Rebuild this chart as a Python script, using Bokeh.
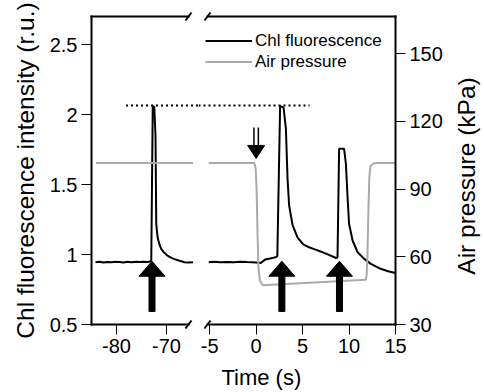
import math
from bokeh.plotting import figure
from bokeh.models import (Range1d, LinearAxis, FixedTicker, Arrow, Label, Legend,
                          LegendItem, PrintfTickFormatter)
from bokeh.layouts import row
from bokeh.embed import file_html
from bokeh.resources import INLINE

# ---------------- data ----------------
t_left = [-84.2, -83.4, -82.6, -81.8, -81.0, -80.2, -79.4, -78.6, -77.8, -77.0, -76.2,
          -75.4, -74.6, -73.8, -73.05, -72.75, -72.45, -72.2, -72.05, -71.9, -71.72,
          -71.4, -71.06, -70.4, -69.72, -69.0, -68.4, -67.4, -66.4, -65.7, -64.7]
f_left = [0.945, 0.948, 0.943, 0.947, 0.944, 0.949, 0.946, 0.943, 0.948, 0.945, 0.949,
          0.946, 0.948, 0.947, 0.952, 2.06, 2.055, 1.85, 1.22, 1.16, 1.112,
          1.07, 1.04, 1.01, 0.99, 0.976, 0.967, 0.955, 0.945, 0.942, 0.945]
tp_left = [-84.1, -64.7]
p_left = [101.5, 101.5]

t_right = [-5.1, -4.5, -3.8, -3.1, -2.4, -1.7, -1.0, -0.5, 0.0, 0.5, 1.0, 1.5, 2.1,
           2.28, 2.58, 2.95, 3.2, 3.38, 3.55, 3.92, 4.46, 5.1, 5.75, 6.4, 7.0, 7.9,
           8.6, 8.76, 8.93, 9.47, 9.66, 9.84, 10.0, 10.38, 10.92, 11.63, 12.35, 13.4,
           14.2, 15.0]
f_right = [0.945, 0.948, 0.944, 0.947, 0.945, 0.949, 0.946, 0.944, 0.942, 0.94, 0.965,
           0.972, 0.98, 0.99, 2.06, 2.05, 1.9, 1.54, 1.35, 1.21, 1.12, 1.07, 1.05,
           1.035, 1.02, 0.995, 0.975, 0.98, 1.755, 1.755, 1.648, 1.41, 1.22, 1.1,
           1.016, 0.969, 0.933, 0.898, 0.88, 0.868]
tp_right = [-5.1, -0.2, -0.05, 0.05, 0.15, 0.25, 0.4, 0.7, 11.8, 11.9, 11.98, 12.08,
            12.18, 12.3, 12.6, 13.0, 15.0]
p_right = [101.5, 101.5, 99.0, 90.0, 70.0, 55.0, 49.5, 47.4, 49.8, 52.0, 60.0, 80.0,
           95.0, 100.0, 101.3, 101.5, 101.5]

flash_left = [-72.9]
flash_right = [2.77, 8.97]
arrow_tip = 0.952
arrow_base = 0.593
valve_time = [0.0]
valve_tip = 1.686
valve_top = 1.907
peak_level = 2.064
peak_from = -78.1
peak_to = 5.75

x_left_ticks = [-80, -70]
x_right_ticks = [-5, 0, 5, 10, 15]
y_ticks = [0.5, 1, 1.5, 2, 2.5]
p_ticks = [30, 60, 90, 120, 150]

FL_AX = (0.5, 2.7)        # fluorescence axis extent
P_AX = (30, 166.4)        # air pressure axis extent
XL_AX = (-85, -65.6)      # left time segment
XR_AX = (-5.24, 15)       # right time segment

# ---------------- geometry (page px) ----------------
H = 390
SPLIT = 198
W_R = 284
Y0_PX, Y_PER = 324, 140.0
XL0_PX, XL_PER = 91, 5.0
XR1_PX, XR_PER = 395, 9.29
P_PER_F = (P_AX[1] - P_AX[0]) / (FL_AX[1] - FL_AX[0])

YV = (FL_AX[0] - (H - Y0_PX) / Y_PER, FL_AX[0] + Y0_PX / Y_PER)
PV = tuple(P_AX[0] + (v - FL_AX[0]) * P_PER_F for v in YV)
XLV = (XL_AX[0] - XL0_PX / XL_PER, XL_AX[0] + (SPLIT - XL0_PX) / XL_PER)
XRV = (XR_AX[1] - (XR1_PX - SPLIT) / XR_PER, XR_AX[1] + (SPLIT + W_R - XR1_PX) / XR_PER)
YPP = 1 / Y_PER
XPP_L = 1 / XL_PER
XPP_R = 1 / XR_PER

FONT = "Liberation Sans"
GRAY = "#aaaaaa"


def style_axis(ax, ticks):
    ax.ticker = FixedTicker(ticks=ticks, minor_ticks=[])
    ax.formatter = PrintfTickFormatter(format="%g")
    ax.axis_line_width = 2
    ax.axis_line_color = "black"
    ax.axis_line_cap = "square"
    ax.major_tick_line_width = 1
    ax.major_tick_line_color = "black"
    ax.major_tick_out = 10
    ax.major_tick_in = 0
    ax.minor_tick_line_color = None
    ax.major_label_text_font = FONT
    ax.major_label_text_font_size = "20px"
    ax.major_label_text_color = "black"
    ax.major_label_standoff = 4
    ax.axis_label_text_font = FONT
    ax.axis_label_text_font_style = "normal"
    ax.axis_label_text_font_size = "24.5px"
    ax.axis_label_text_color = "black"
    return ax


def base_fig(width, xv):
    p = figure(width=width, height=H, x_range=Range1d(*xv), y_range=Range1d(*YV),
               output_backend="svg", toolbar_location=None, x_axis_location=None,
               y_axis_location=None, min_border=0)
    p.extra_y_ranges = {"p": Range1d(*PV)}
    p.outline_line_color = None
    p.grid.visible = False
    p.background_fill_color = "white"
    p.border_fill_color = "white"
    return p


def frame_lines(p, xb, ticks):
    bottom = style_axis(LinearAxis(fixed_location=FL_AX[0], bounds=xb), ticks)
    p.add_layout(bottom, "below")
    top = style_axis(LinearAxis(fixed_location=FL_AX[1], bounds=xb), [])
    top.major_label_text_font_size = "0px"
    p.add_layout(top, "above")


def slash(p, cx, cy, xpp):
    p.add_layout(Arrow(end=None, start=None, x_start=cx - 3 * xpp, y_start=cy - 4 * YPP,
                       x_end=cx + 3 * xpp, y_end=cy + 4 * YPP, line_width=2,
                       line_color="black"))


def flash_arrows(p, times, xpp):
    xs, ys = [], []
    hw, sw, hh = 13 * xpp, 3 * xpp, 15 * YPP
    for t in times:
        xs.append([t, t + hw, t + sw, t + sw, t - sw, t - sw, t - hw])
        ys.append([arrow_tip, arrow_tip - hh, arrow_tip - hh, arrow_base, arrow_base,
                   arrow_tip - hh, arrow_tip - hh])
    p.patches(xs, ys, fill_color="black", line_color="black", line_width=1)


# ---------------- left panel ----------------
pl = base_fig(SPLIT, XLV)
frame_lines(pl, XL_AX, x_left_ticks)
ax_f = style_axis(LinearAxis(fixed_location=XL_AX[0], bounds=FL_AX,
                             axis_label="Chl fluorescence intensity (r.u.)"), y_ticks)
ax_f.axis_label_standoff = 8
pl.add_layout(ax_f, "left")

pl.line(t_left, f_left, line_color="black", line_width=2)
pl.line(tp_left, p_left, line_color=GRAY, line_width=2, y_range_name="p")
flash_arrows(pl, flash_left, XPP_L)
pl.line([peak_from, XLV[1]], [peak_level, peak_level], line_color="black",
        line_width=2, line_dash="2 3")
slash(pl, XL_AX[1], FL_AX[0], XPP_L)
slash(pl, XL_AX[1], FL_AX[1], XPP_L)

# ---------------- right panel ----------------
pr = base_fig(W_R, XRV)
frame_lines(pr, XR_AX, x_right_ticks)
ax_p = style_axis(LinearAxis(y_range_name="p", fixed_location=XR_AX[1], bounds=P_AX),
                  p_ticks)
pr.add_layout(ax_p, "right")

r_chl = pr.line(t_right, f_right, line_color="black", line_width=2)
r_air = pr.line(tp_right, p_right, line_color=GRAY, line_width=2, y_range_name="p")
flash_arrows(pr, flash_right, XPP_R)

for t in valve_time:
    hb = valve_tip + 13 * YPP
    pr.patch([t - 8.5 * XPP_R, t + 8.5 * XPP_R, t], [hb, hb, valve_tip],
             fill_color="black", line_color="black", line_width=1)
    pr.multi_line([[t - 2.2 * XPP_R] * 2, [t + 2.2 * XPP_R] * 2],
                  [[hb, valve_top], [hb, valve_top]], line_color="black", line_width=1.5)

pr.line([XRV[0], peak_to], [peak_level, peak_level], line_color="black",
        line_width=2, line_dash="2 3")
slash(pr, XR_AX[0], FL_AX[0], XPP_R)
slash(pr, XR_AX[0], FL_AX[1], XPP_R)

# axis titles placed as text (right one reads bottom-to-top like the left one)
pr.add_layout(Label(x=XR_AX[1] + 71 * XPP_R, y=FL_AX[0] + 148.5 * YPP,
                    text="Air pressure (kPa)", angle=math.pi / 2,
                    text_align="center", text_baseline="middle", text_font=FONT,
                    text_font_size="24.5px", text_color="black"))
pr.add_layout(Label(x=0.56, y=FL_AX[0] - 52.7 * YPP, text="Time (s)",
                    text_align="center", text_baseline="middle", text_font=FONT,
                    text_font_size="22px", text_color="black"))

legend = Legend(items=[LegendItem(label="Chl fluorescence", renderers=[r_chl]),
                       LegendItem(label="Air pressure", renderers=[r_air])],
                location=(7, H - 72.2), glyph_width=47, glyph_height=21,
                label_height=21, label_standoff=3, padding=0, spacing=0, margin=0,
                label_text_font=FONT, label_text_font_size="17px",
                label_text_color="black",
                background_fill_alpha=0, border_line_alpha=0)
pr.add_layout(legend)

layout = row(pl, pr)
open("out.html", "w").write(file_html(layout, INLINE))
